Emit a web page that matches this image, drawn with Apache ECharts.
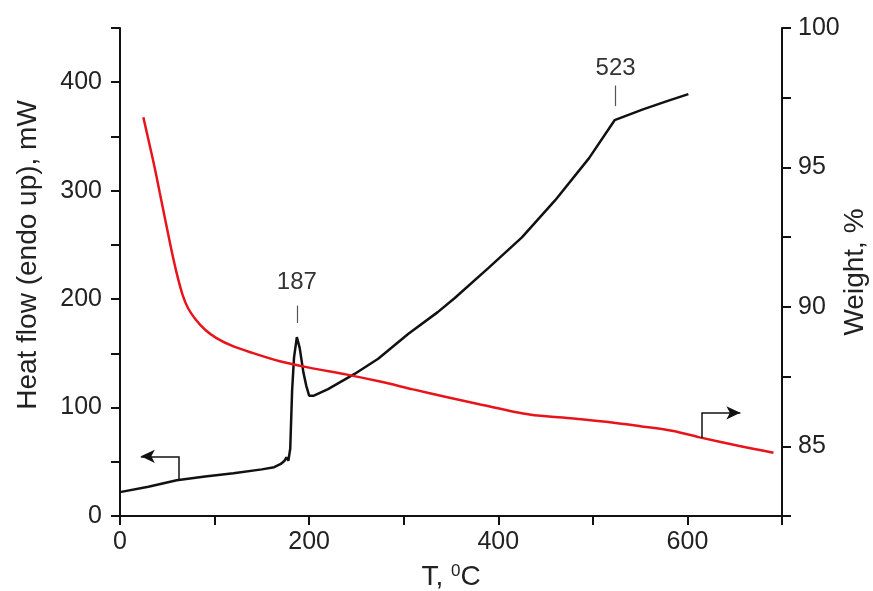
<!DOCTYPE html>
<html>
<head>
<meta charset="utf-8">
<script src="https://cdn.jsdelivr.net/npm/echarts@6/dist/echarts.min.js"></script>
<style>
  html, body { margin: 0; padding: 0; background: #fff; }
  #main { width: 873px; height: 591px; }
</style>
</head>
<body>
<div id="main"></div>
<script>
// DSC curve (heat flow, left axis)
var tempHeat = [0, 30, 60, 90, 120, 150, 163, 170, 174, 176, 178, 180, 182, 184, 187, 190, 194, 197, 200, 205, 220, 248, 273, 305, 336, 354, 390, 425, 460, 496, 523, 553, 580, 601];
var heatFlow = [22, 27, 33, 36.5, 39.5, 43, 45, 48, 51, 54, 51, 62, 116, 146, 165, 155, 132, 120, 111, 111, 117, 131, 145, 168, 188, 201, 229, 257, 291, 330, 365, 375, 383, 389];

// TG curve (weight, right axis)
var tempWeight = [24.7, 30, 36, 42, 48, 54, 60, 66, 72, 80, 90, 102, 120, 140, 169, 200, 240, 275, 310, 345, 381, 433, 479, 514, 550, 585, 613, 655, 691];
var weight = [96.8, 96.0, 95.1, 94.1, 93.1, 92.1, 91.2, 90.45, 89.95, 89.55, 89.18, 88.88, 88.58, 88.35, 88.05, 87.82, 87.57, 87.32, 87.04, 86.77, 86.5, 86.14, 86.0, 85.88, 85.72, 85.55, 85.32, 85.01, 84.77];

// ticks
var xTicks = [0, 200, 400, 600];
var yLeftTicks = [0, 100, 200, 300, 400];
var yRightTicks = [85, 90, 95, 100];

var chartDom = document.getElementById('main');
var myChart = echarts.init(chartDom);
var font = 'Liberation Sans, Arial, sans-serif';

var option = {
  animation: false,
  backgroundColor: '#fff',
  grid: { left: 120, right: 91, top: 28, bottom: 75, outerBoundsMode: 'none' },
  xAxis: {
    type: 'value',
    min: 0, max: 700, interval: 100,
    name: 'T, {sup|0}C',
    nameLocation: 'middle',
    nameGap: 47,
    nameTextStyle: {
      fontFamily: font, fontSize: 28, color: '#222',
      rich: { sup: { fontFamily: font, fontSize: 17, verticalAlign: 'top', padding: [0, 0, 12, 0], color: '#222' } }
    },
    axisLine: { lineStyle: { color: '#111', width: 2 } },
    axisTick: { inside: false, length: 9, lineStyle: { color: '#111', width: 2 } },
    splitLine: { show: false },
    axisLabel: {
      margin: 14, fontFamily: font, fontSize: 25, color: '#222',
      formatter: function (v) { return xTicks.indexOf(v) >= 0 ? String(v) : ''; }
    }
  },
  yAxis: [
    {
      type: 'value',
      min: 0, max: 450, interval: 50,
      name: 'Heat flow (endo up), mW',
      nameLocation: 'middle',
      nameRotate: 90,
      nameGap: 78,
      nameTextStyle: { fontFamily: font, fontSize: 28, color: '#222', padding: [0, 0, 0, 34] },
      axisLine: { show: true, lineStyle: { color: '#111', width: 2 } },
      axisTick: { show: true, length: 9, lineStyle: { color: '#111', width: 2 } },
      splitLine: { show: false },
      axisLabel: {
        margin: 18, fontFamily: font, fontSize: 25, color: '#222',
        formatter: function (v) { return yLeftTicks.indexOf(v) >= 0 ? String(v) : ''; }
      }
    },
    {
      type: 'value',
      position: 'right',
      min: 82.5, max: 100, interval: 2.5,
      name: 'Weight, %',
      nameLocation: 'middle',
      nameRotate: 90,
      nameGap: 59,
      nameMoveOverlap: false,
      nameTextStyle: { fontFamily: font, fontSize: 28, color: '#222' },
      axisLine: { show: true, lineStyle: { color: '#111', width: 2 } },
      axisTick: { show: true, length: 9, lineStyle: { color: '#111', width: 2 } },
      splitLine: { show: false },
      axisLabel: {
        margin: 16, fontFamily: font, fontSize: 25, color: '#222',
        formatter: function (v) { return yRightTicks.indexOf(v) >= 0 ? String(v) : ''; }
      }
    }
  ],
  series: [
    {
      name: 'Heat flow',
      type: 'line',
      yAxisIndex: 0,
      showSymbol: false,
      symbol: 'none',
      lineStyle: { color: '#111', width: 2.5 },
      data: tempHeat.map(function (t, i) { return [t, heatFlow[i]]; }),
      markLine: {
        silent: true,
        symbol: 'none',
        label: { show: false },
        lineStyle: { type: 'solid', color: '#555', width: 1.2 },
        data: [
          [{ coord: [187, 178] }, { coord: [187, 194] }],
          [{ coord: [524, 378] }, { coord: [524, 397] }],
          // left arrow
          [{ coord: [62, 33], lineStyle: { color: '#111', width: 1.5 } }, { coord: [62, 55] }],
          [{ coord: [62, 55], symbol: 'none', lineStyle: { color: '#111', width: 1.5 } },
           { coord: [22, 55], symbol: 'arrow', symbolSize: [10, 14] }]
        ]
      },
      markPoint: {
        symbol: 'circle',
        symbolSize: 0,
        silent: true,
        label: { show: true, position: 'inside', fontFamily: font, fontSize: 24, color: '#333',
          formatter: function (p) { return p.name; } },
        data: [
          { name: '187', coord: [187, 215] },
          { name: '523', coord: [524, 413] }
        ]
      }
    },
    {
      name: 'Weight',
      type: 'line',
      yAxisIndex: 1,
      showSymbol: false,
      symbol: 'none',
      smooth: 0.3,
      lineStyle: { color: '#e8141c', width: 2.5 },
      data: tempWeight.map(function (t, i) { return [t, weight[i]]; }),
      markLine: {
        silent: true,
        symbol: 'none',
        label: { show: false },
        lineStyle: { type: 'solid', color: '#111', width: 1.5 },
        data: [
          [{ coord: [615, 85.3] }, { coord: [615, 86.2] }],
          [{ coord: [615, 86.2], symbol: 'none' }, { coord: [656, 86.2], symbol: 'arrow', symbolSize: [10, 14] }]
        ]
      }
    }
  ]
};

option && myChart.setOption(option);
</script>
</body>
</html>
